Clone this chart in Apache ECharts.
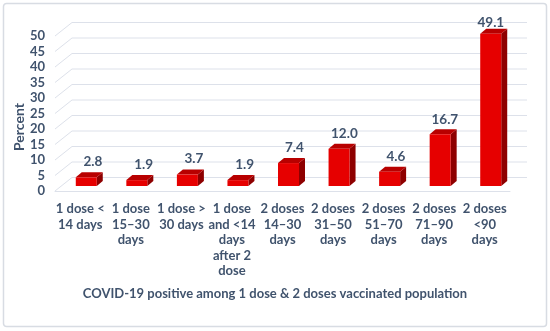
<!DOCTYPE html>
<html><head><meta charset="utf-8">
<script src="https://cdn.jsdelivr.net/npm/echarts@6/dist/echarts.min.js"></script>
<style>html,body{margin:0;padding:0;background:#fff}#c{width:550px;height:331px}</style>
</head><body><div id="c"></div>
<script>
var categories = ["1 dose <\n14 days", "1 dose\n15\u201330\ndays", "1 dose >\n30 days", "1 dose\nand <14\ndays\nafter 2\ndose", "2 doses\n14\u201330\ndays", "2 doses\n31\u201350\ndays", "2 doses\n51\u201370\ndays", "2 doses\n71\u201390\ndays", "2 doses\n<90\ndays"];
var values = [2.8, 1.9, 3.7, 1.9, 7.4, 12.0, 4.6, 16.7, 49.1];
var yTicks = [0, 5, 10, 15, 20, 25, 30, 35, 40, 45, 50];
var yAxisTitle = "Percent";
var xAxisTitle = "COVID-19 positive among 1 dose & 2 doses vaccinated population";

var FONT = "Lato, 'Open Sans', sans-serif";
var TXT = "#40536d";
var WALL_DX = 17, WALL_DY = -13.5;   // perspective offset of back wall
var BAR_DX = 6, BAR_DY = -5;         // bar front face offset from floor front
var BAR_W = 21, DEP_X = 6, DEP_Y = -5;

var chart = echarts.init(document.getElementById('c'), null, {renderer: 'canvas'});

function gridRender(params, api) {
  var t = api.value(1);
  var p = api.coord([0, t]);
  var bw = api.size([1, 0])[0];
  var left = p[0] - bw / 2;
  var right = left + bw * categories.length;
  var st = {stroke: '#dde1ea', lineWidth: 1};
  return {type: 'group', children: [
    {type: 'line', shape: {x1: left, y1: p[1], x2: left + WALL_DX, y2: p[1] + WALL_DY}, style: st},
    {type: 'line', shape: {x1: left + WALL_DX, y1: p[1] + WALL_DY, x2: right + WALL_DX, y2: p[1] + WALL_DY}, style: st}
  ]};
}

function barRender(params, api) {
  var i = api.value(0), v = api.value(1);
  var p0 = api.coord([i, 0]);
  var p1 = api.coord([i, v]);
  var cx = p0[0] + BAR_DX;
  var x0 = cx - BAR_W / 2, x1 = cx + BAR_W / 2;
  var yb = p0[1] + BAR_DY, yt = p1[1] + BAR_DY;
  var ldx = Math.max(0, 7 - v * 0.14), ldy = -(11 + Math.max(0, 5 - v * 0.1));
  return {type: 'group', children: [
    {type: 'polygon', shape: {points: [[x1, yb], [x1 + DEP_X, yb + DEP_Y], [x1 + DEP_X, yt + DEP_Y], [x1, yt]]}, style: {fill: '#8e0000'}},
    {type: 'polygon', shape: {points: [[x0, yt], [x1, yt], [x1 + DEP_X, yt + DEP_Y], [x0 + DEP_X, yt + DEP_Y]]}, style: {fill: '#b80000'}},
    {type: 'rect', shape: {x: x0, y: yt, width: BAR_W, height: yb - yt}, style: {fill: '#e60000'}},
    {type: 'text', x: cx + ldx, y: yt + ldy, style: {text: v.toFixed(1), fill: TXT, font: 'bold 13.5px ' + FONT, textAlign: 'center', textVerticalAlign: 'middle'}}
  ]};
}

var option = {
  animation: false,
  backgroundColor: '#fff',
  graphic: [
    {type: 'rect', shape: {x: 3.5, y: 3.5, width: 543, height: 323, r: 3}, style: {fill: 'none', stroke: '#d8dce3', lineWidth: 1.5}},
    {type: 'text', x: 19, y: 127, rotation: Math.PI / 2, style: {text: yAxisTitle, fill: TXT, font: 'bold 14px ' + FONT, textAlign: 'center', textVerticalAlign: 'middle'}}
  ],
  title: {text: xAxisTitle, left: 'center', top: 282, textStyle: {color: TXT, fontFamily: FONT, fontWeight: 'bold', fontSize: 13}},
  grid: {left: 55, right: 40, top: 36, bottom: 140},
  xAxis: {type: 'category', data: categories,
    axisLine: {show: true, lineStyle: {color: '#dde1ea', width: 1}},
    axisTick: {show: false},
    axisLabel: {interval: 0, color: TXT, fontFamily: FONT, fontWeight: 'bold', fontSize: 13, lineHeight: 15.6, margin: 10}},
  yAxis: {type: 'value', min: 0, max: 50, interval: 5,
    axisLine: {show: false}, axisTick: {show: false}, splitLine: {show: false},
    axisLabel: {color: TXT, fontFamily: FONT, fontWeight: 'bold', fontSize: 13, margin: 10}},
  series: [
    {type: 'custom', renderItem: gridRender, data: yTicks.map(function (t) { return [0, t]; }), z: 1, silent: true},
    {type: 'custom', renderItem: barRender, data: values.map(function (v, i) { return [i, v]; }), z: 5}
  ]
};
chart.setOption(option);
</script></body></html>
